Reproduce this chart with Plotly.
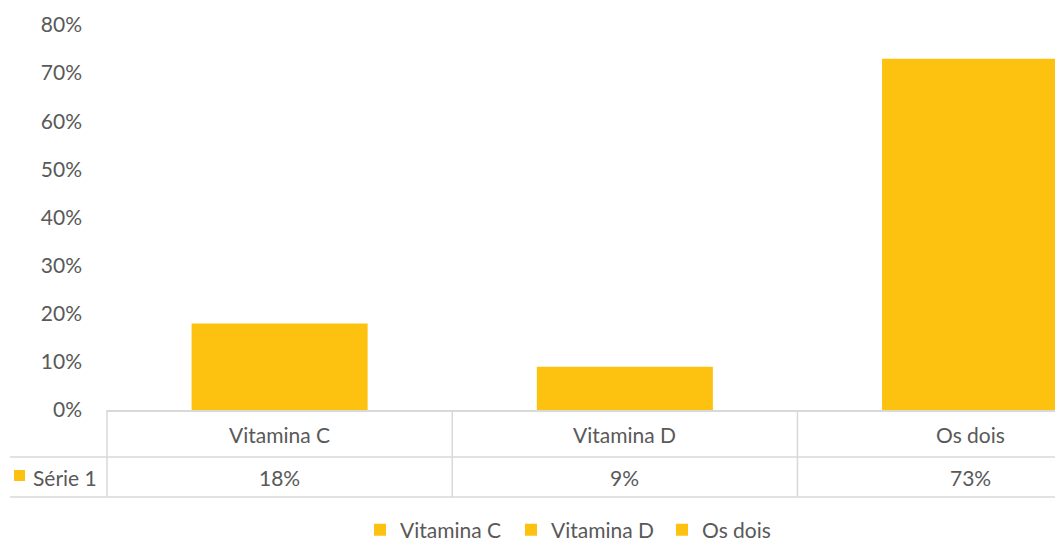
import plotly.graph_objects as go

# Chart data
categories = ["Vitamina C", "Vitamina D", "Os dois"]
values = [0.18, 0.09, 0.73]
series_name = "Série 1"
y_ticks = [0, 0.1, 0.2, 0.3, 0.4, 0.5, 0.6, 0.7, 0.8]

BAR_COLOR = "#FDC210"
TEXT_COLOR = "#595959"
LINE_COLOR = "#D9D9D9"
FONT = "Lato"
FS = 21

W, H = 1055, 541
M_L, M_R, M_T, M_B = 107, 0, 25, 131
plot_w = W - M_L - M_R
plot_h = H - M_T - M_B

# x range: category slots of equal width, the last one running off the right edge
x_lo, x_hi = -0.5, 2.246


def px_to_paper_x(px):
    return (px - M_L) / plot_w


def px_to_paper_y(py):
    return (H - M_B - py) / plot_h


def cat_to_paper_x(v):
    return (v - x_lo) / (x_hi - x_lo)


fig = go.Figure()
for cat, val in zip(categories, values):
    fig.add_trace(go.Bar(
        x=[cat], y=[val], name=cat, width=0.51,
        marker=dict(color=BAR_COLOR, line=dict(width=0)),
        hovertemplate="%{x}: %{y:.0%}<extra></extra>",
    ))

# Data table beneath the plot
row1_y = px_to_paper_y(457)
row2_y = px_to_paper_y(497)
shapes = []
for ypos in (row1_y, row2_y):
    shapes.append(dict(type="line", xref="paper", yref="paper",
                       x0=px_to_paper_x(10), x1=1.0, y0=ypos, y1=ypos,
                       line=dict(color=LINE_COLOR, width=1.5)))
for b in (-0.5, 0.5, 1.5):
    xp = cat_to_paper_x(b)
    shapes.append(dict(type="line", xref="paper", yref="paper",
                       x0=xp, x1=xp, y0=0, y1=row2_y,
                       line=dict(color=LINE_COLOR, width=1.5)))
# Series key next to the row label
shapes.append(dict(type="rect", xref="paper", yref="paper",
                   x0=px_to_paper_x(14), x1=px_to_paper_x(25),
                   y0=px_to_paper_y(481), y1=px_to_paper_y(470),
                   fillcolor=BAR_COLOR, line=dict(width=0)))

annotations = []
header_y = px_to_paper_y(434)
value_y = px_to_paper_y(477)
for i, (cat, val) in enumerate(zip(categories, values)):
    annotations.append(dict(x=cat_to_paper_x(i), y=header_y, xref="paper", yref="paper",
                            text=cat, showarrow=False, xanchor="center", yanchor="middle",
                            font=dict(family=FONT, size=FS, color=TEXT_COLOR)))
    annotations.append(dict(x=cat_to_paper_x(i), y=value_y, xref="paper", yref="paper",
                            text=f"{val:.0%}", showarrow=False, xanchor="center", yanchor="middle",
                            font=dict(family=FONT, size=FS, color=TEXT_COLOR)))
annotations.append(dict(x=px_to_paper_x(31), y=value_y, xref="paper", yref="paper",
                        text=series_name, showarrow=False, xanchor="left", yanchor="middle",
                        font=dict(family=FONT, size=FS, color=TEXT_COLOR)))

fig.update_layout(
    width=W, height=H,
    margin=dict(l=M_L, r=M_R, t=M_T, b=M_B, pad=0, autoexpand=False),
    paper_bgcolor="white", plot_bgcolor="white",
    barmode="overlay",
    font=dict(family=FONT, size=FS, color=TEXT_COLOR),
    showlegend=True,
    legend=dict(orientation="h", x=px_to_paper_x(360), xanchor="left",
                y=px_to_paper_y(530), yanchor="middle",
                entrywidth=106, entrywidthmode="pixels",
                font=dict(family=FONT, size=FS, color=TEXT_COLOR),
                bgcolor="rgba(0,0,0,0)"),
    xaxis=dict(type="category", categoryorder="array", categoryarray=categories,
               range=[x_lo, x_hi], showticklabels=False, ticks="",
               showgrid=False, zeroline=False, showline=True,
               linecolor=LINE_COLOR, linewidth=1.5),
    yaxis=dict(range=[0, 0.8], tickvals=y_ticks, tickformat=".0%",
               showgrid=False, zeroline=False, showline=False, ticks="",
               ticklabelstandoff=24,
               tickfont=dict(family=FONT, size=FS, color=TEXT_COLOR)),
    shapes=shapes,
    annotations=annotations,
)

fig.write_html("out.html")
